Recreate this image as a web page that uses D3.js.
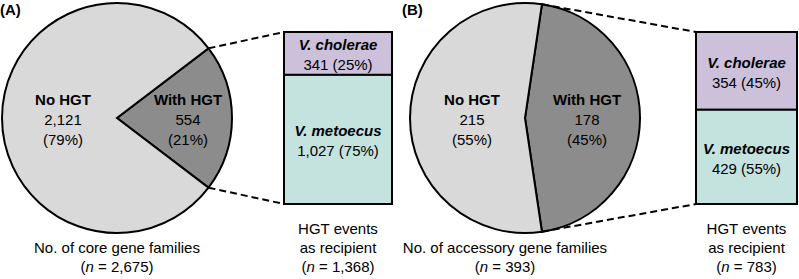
<!DOCTYPE html>
<html>
<head>
<meta charset="utf-8">
<script src="https://cdn.jsdelivr.net/npm/d3@7"></script>
<style>
  body { margin: 0; background: #fff; }
  text { font-family: "Liberation Sans", Arial, sans-serif; font-size: 15px; fill: #000; }
  .bold { font-weight: bold; }
</style>
</head>
<body>
<div id="chart"></div>
<script>
// ---- data ----
const pieCategories = ["With HGT", "No HGT"];
const pieValuesA = [554, 2121];
const pieValuesB = [178, 215];
const pieShareA = ["21%", "79%"];
const pieShareB = ["45%", "55%"];

const barCategories = ["V. cholerae", "V. metoecus"];
const barValuesA = [341, 1027];
const barValuesB = [354, 429];
const barShareA = ["25%", "75%"];
const barShareB = ["45%", "55%"];

const panelLetters = ["(A)", "(B)"];
const pieCaptions = [["No. of core gene families", "2,675"], ["No. of accessory gene families", "393"]];
const barCaptions = [["HGT events", "as recipient", "1,368"], ["HGT events", "as recipient", "783"]];

// ---- layout ----
const width = 799, height = 279;
const pieColors = ["#8c8c8c", "#d9d9d9"];
const barColors = ["#ccc0da", "#c4e2de"];
const fmt = d3.format(",");

const panels = [
  { letterX: 0, cx: 117, cy: 118, r: 115, labelR: [71, 54], captionX: 117,
    barX: 284, barW: 108, barTop: 32, barBottom: 204,
    pie: pieValuesA, pieShare: pieShareA, bar: barValuesA, barShare: barShareA },
  { letterX: 402, cx: 525, cy: 118, r: 115, labelR: [62, 53], captionX: 505,
    barX: 696, barW: 101, barTop: 32, barBottom: 204,
    pie: pieValuesB, pieShare: pieShareB, bar: barValuesB, barShare: barShareB }
];

const svg = d3.select("#chart").append("svg")
  .attr("width", width)
  .attr("height", height);

panels.forEach((p, pi) => {
  const g = svg.append("g");

  g.append("text").attr("class", "bold")
    .attr("x", p.letterX).attr("y", 15)
    .text(panelLetters[pi]);

  // pie, "With HGT" wedge centred at 3 o'clock
  const total = d3.sum(p.pie);
  const half = Math.PI * p.pie[0] / total;
  const pie = d3.pie().sort(null)
    .startAngle(Math.PI / 2 - half)
    .endAngle(Math.PI / 2 - half + 2 * Math.PI);
  const arcs = pie(p.pie);
  const arc = d3.arc().innerRadius(0).outerRadius(p.r);

  const pg = g.append("g").attr("transform", `translate(${p.cx},${p.cy})`);
  pg.selectAll("path")
    .data(arcs).enter()
    .append("path")
      .attr("d", arc)
      .attr("fill", (d, i) => pieColors[i])
      .attr("stroke", "#000")
      .attr("stroke-width", 2)
      .attr("stroke-linejoin", "miter");

  arcs.forEach((a, i) => {
    const mid = (a.startAngle + a.endAngle) / 2;
    const lx = Math.sin(mid) * p.labelR[i];
    const t = pg.append("text").attr("text-anchor", "middle");
    const lines = [pieCategories[i], fmt(p.pie[i]), `(${p.pieShare[i]})`];
    lines.forEach((s, k) => {
      t.append("tspan")
        .attr("x", lx)
        .attr("y", -13 + k * 20)
        .attr("class", k === 0 ? "bold" : null)
        .text(s);
    });
  });

  // stacked bar
  const y = d3.scaleLinear()
    .domain([0, d3.sum(p.bar)])
    .range([p.barTop, p.barBottom]);
  const stack = d3.cumsum(p.bar);
  const segs = p.bar.map((v, i) => ({ y0: i ? stack[i - 1] : 0, y1: stack[i], i }));

  g.selectAll("rect.seg")
    .data(segs).enter()
    .append("rect")
      .attr("class", "seg")
      .attr("x", p.barX)
      .attr("width", p.barW)
      .attr("y", d => y(d.y0))
      .attr("height", d => y(d.y1) - y(d.y0))
      .attr("fill", d => barColors[d.i])
      .attr("stroke", "#000")
      .attr("stroke-width", 2);

  segs.forEach(d => {
    const cy = (y(d.y0) + y(d.y1)) / 2;
    g.append("text").attr("class", "bold")
      .attr("text-anchor", "middle")
      .attr("x", p.barX + p.barW / 2).attr("y", cy - 3)
      .attr("font-style", "italic")
      .text(barCategories[d.i]);
    g.append("text")
      .attr("text-anchor", "middle")
      .attr("x", p.barX + p.barW / 2).attr("y", cy + 17)
      .text(`${fmt(p.bar[d.i])} (${p.barShare[d.i]})`);
  });

  // dashed connectors from wedge edge points to bar corners
  const ends = [arcs[0].startAngle, arcs[0].endAngle].map(a => [
    p.cx + Math.sin(a) * p.r, p.cy - Math.cos(a) * p.r
  ]);
  const corners = [[p.barX, y.range()[0]], [p.barX, y.range()[1]]];
  ends.forEach((e, i) => {
    g.append("line")
      .attr("x1", e[0]).attr("y1", e[1])
      .attr("x2", corners[i][0]).attr("y2", corners[i][1])
      .attr("stroke", "#000")
      .attr("stroke-width", 2)
      .attr("stroke-dasharray", "7,4");
  });

  // captions
  const pc = g.append("text").attr("text-anchor", "middle");
  pc.append("tspan").attr("x", p.captionX).attr("y", 253).text(pieCaptions[pi][0]);
  const pn = pc.append("tspan").attr("x", p.captionX).attr("y", 272);
  pn.append("tspan").text("(");
  pn.append("tspan").attr("font-style", "italic").text("n");
  pn.append("tspan").text(` = ${pieCaptions[pi][1]})`);

  const bx = p.barX + p.barW / 2;
  const bc = g.append("text").attr("text-anchor", "middle");
  bc.append("tspan").attr("x", bx).attr("y", 234).text(barCaptions[pi][0]);
  bc.append("tspan").attr("x", bx).attr("y", 253).text(barCaptions[pi][1]);
  const bn = bc.append("tspan").attr("x", bx).attr("y", 272);
  bn.append("tspan").text("(");
  bn.append("tspan").attr("font-style", "italic").text("n");
  bn.append("tspan").text(` = ${barCaptions[pi][2]})`);
});
</script>
</body>
</html>
